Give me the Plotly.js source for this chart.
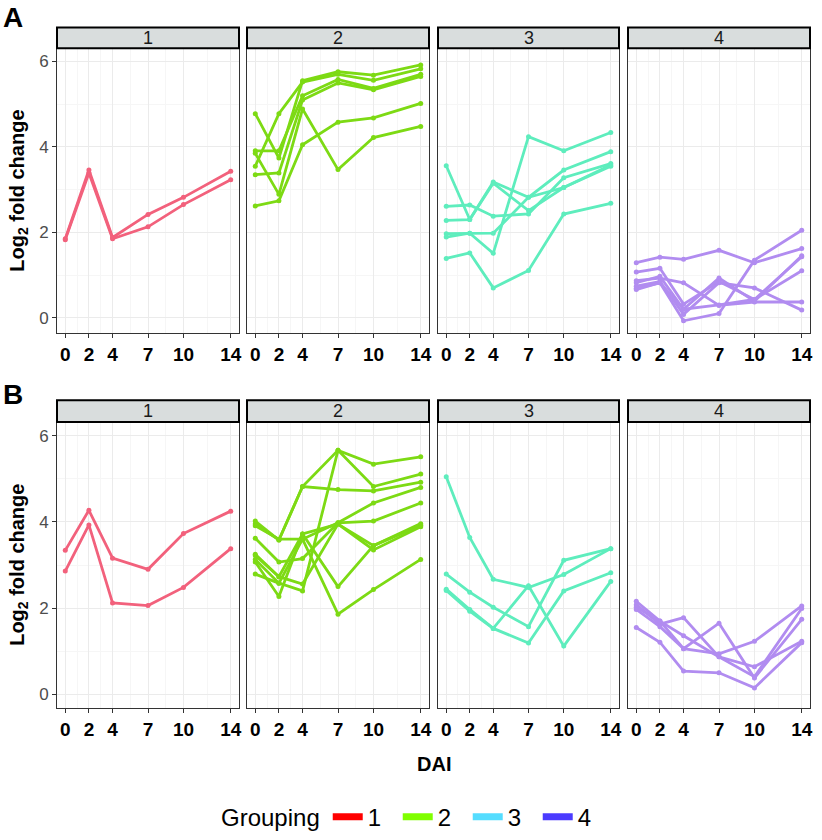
<!DOCTYPE html>
<html>
<head>
<meta charset="utf-8">
<script src="https://cdn.plot.ly/plotly-3.0.1.min.js"></script>
<style>
  body { margin: 0; background: #fff; }
  #graphs-div { width: 822px; height: 840px; }
</style>
</head>
<body>
<div id="graphs-div"></div>
<script>
// x values (days after inoculation)
var dai = [0, 2, 4, 7, 10, 14];
var daiLabels = ['0', '2', '4', '7', '10', '14'];
var groupNames = ['1', '2', '3', '4'];
var lineColors = ['#F2617C', '#7DDA14', '#5EEDBD', '#B18CF0'];
var legendColors = ['#FF0000', '#80FF00', '#55DDFF', '#4B3BFF'];
var rowLetters = ['A', 'B'];

// Row A, one array of series per grouping
var a1 = [
    [1.85, 3.46, 1.88, 2.42, 2.82, 3.43],
    [1.83, 3.39, 1.85, 2.13, 2.65, 3.23]
];
var a2 = [
    [3.55, 4.78, 5.52, 5.70, 5.56, 5.83],
    [4.78, 3.74, 5.55, 5.76, 5.68, 5.92],
    [3.91, 3.91, 5.20, 5.58, 5.37, 5.70],
    [3.85, 2.89, 4.89, 3.47, 4.22, 4.48],
    [3.35, 3.39, 5.10, 5.50, 5.34, 5.65],
    [2.62, 2.74, 4.05, 4.58, 4.68, 5.02]
];
var a3 = [
    [3.56, 2.30, 3.18, 2.82, 3.05, 3.55],
    [2.61, 2.64, 2.38, 2.43, 3.28, 3.61],
    [2.28, 2.30, 3.15, 2.51, 3.05, 3.58],
    [1.97, 1.98, 1.98, 2.82, 3.46, 3.89],
    [1.89, 1.98, 1.51, 4.24, 3.91, 4.34],
    [1.39, 1.52, 0.70, 1.11, 2.43, 2.68]
];
var a4 = [
    [1.29, 1.42, 1.37, 1.58, 1.29, 1.62],
    [0.69, 0.82, -0.07, 0.10, 1.35, 2.05],
    [1.07, 1.16, 0.32, 0.85, 0.43, 1.43],
    [0.87, 0.93, 0.82, 0.29, 0.37, 0.37],
    [0.82, 0.97, 0.20, 0.93, 0.39, 1.45],
    [0.74, 0.85, 0.08, 0.82, 0.70, 0.18],
    [0.66, 0.82, 0.20, 0.30, 0.43, 1.10]
];

// Row B
var b1 = [
    [3.34, 4.27, 3.16, 2.90, 3.73, 4.25],
    [2.86, 3.93, 2.12, 2.06, 2.48, 3.38]
];
var b2 = [
    [4.02, 3.58, 4.82, 5.66, 5.34, 5.51],
    [3.95, 3.58, 4.82, 4.75, 4.72, 4.92],
    [3.91, 3.60, 3.60, 3.98, 4.44, 4.80],
    [3.62, 3.07, 3.15, 3.98, 4.02, 4.44],
    [3.25, 2.73, 3.72, 2.50, 3.45, 3.96],
    [3.13, 2.58, 2.40, 5.66, 4.82, 5.11],
    [3.07, 2.27, 3.72, 3.95, 3.35, 3.89],
    [2.79, 2.58, 3.60, 1.86, 2.43, 3.13],
    [3.22, 2.73, 2.56, 3.95, 3.45, 3.92]
];
var b3 = [
    [5.05, 3.64, 2.67, 2.48, 2.78, 3.38],
    [2.79, 2.37, 2.02, 1.57, 3.11, 3.38],
    [2.44, 1.97, 1.53, 2.52, 1.12, 2.62],
    [2.41, 1.93, 1.53, 1.19, 2.40, 2.82]
];
var b4 = [
    [2.16, 1.70, 1.06, 0.94, 1.23, 2.05],
    [2.08, 1.63, 1.78, 0.87, 0.41, 1.99],
    [2.02, 1.70, 1.36, 0.87, 0.64, 1.23],
    [1.97, 1.57, 1.06, 1.65, 0.38, 1.74],
    [1.55, 1.21, 0.54, 0.50, 0.15, 1.20]
];

var panels = [a1, a2, a3, a4, b1, b2, b3, b4];

// page geometry in pixels
var W = 822, H = 840;
var colPx = [[57, 239], [247, 429], [438, 619], [628, 810]];
var rowPx = [[49, 338], [428, 718]];      // panel top / bottom
var stripPx = [[28, 49], [406, 428]];     // facet strip top / bottom
var yRanges = [[-0.36, 6.31], [-0.31, 6.32]];

function px(x) { return x / W; }
function py(y) { return 1 - y / H; }

var data = [];
var layout = {
    width: W,
    height: H,
    autosize: false,
    margin: { l: 0, r: 0, t: 0, b: 0 },
    paper_bgcolor: '#fff',
    plot_bgcolor: '#fff',
    font: { family: 'Liberation Sans, Arial, sans-serif', color: '#000' },
    showlegend: true,
    legend: {
        orientation: 'h',
        x: px(219),
        xanchor: 'left',
        y: py(829),
        yanchor: 'middle',
        title: { text: 'Grouping', side: 'left', font: { size: 24 } },
        font: { size: 24 },
        entrywidth: 25,
        entrywidthmode: 'pixels',
        tracegroupgap: 0
    },
    shapes: [],
    annotations: []
};

for (var p = 0; p < panels.length; p++) {
    var row = Math.floor(p / 4);
    var col = p % 4;
    var suffix = p === 0 ? '' : String(p + 1);

    // one line per series, grouping colour by column
    for (var s = 0; s < panels[p].length; s++) {
        data.push({
            x: dai,
            y: panels[p][s],
            xaxis: 'x' + suffix,
            yaxis: 'y' + suffix,
            mode: 'lines+markers',
            type: 'scatter',
            line: { color: lineColors[col], width: 2.8 },
            marker: { color: lineColors[col], size: 5 },
            showlegend: false,
            hoverinfo: 'skip'
        });
    }

    layout['xaxis' + suffix] = {
        domain: [px(colPx[col][0]), px(colPx[col][1])],
        anchor: 'y' + suffix,
        range: [-0.7, 14.7],
        tickmode: 'array',
        tickvals: dai,
        ticktext: daiLabels,
        ticks: 'outside',
        ticklen: 4,
        tickcolor: '#333',
        tickfont: { size: 19, color: '#000', weight: 'bold' },
        showline: true,
        mirror: true,
        linecolor: '#333',
        linewidth: 1,
        showgrid: true,
        gridcolor: '#EBEBEB',
        gridwidth: 1,
        minor: { tickvals: [1, 3, 5.5, 8.5, 12], showgrid: true, gridcolor: '#F6F6F6', gridwidth: 1, ticks: '' },
        zeroline: false,
        fixedrange: true
    };
    layout['yaxis' + suffix] = {
        domain: [py(rowPx[row][1]), py(rowPx[row][0])],
        anchor: 'x' + suffix,
        range: yRanges[row],
        tickmode: 'array',
        tickvals: [0, 2, 4, 6],
        ticks: col === 0 ? 'outside' : '',
        ticklen: 4,
        tickcolor: '#333',
        showticklabels: col === 0,
        tickfont: { size: 17, color: '#4D4D4D' },
        showline: true,
        mirror: true,
        linecolor: '#333',
        linewidth: 1,
        showgrid: true,
        gridcolor: '#EBEBEB',
        gridwidth: 1,
        minor: { tickvals: [1, 3, 5], showgrid: true, gridcolor: '#F6F6F6', gridwidth: 1, ticks: '' },
        zeroline: false,
        fixedrange: true
    };

    // facet strip with its label
    layout.shapes.push({
        type: 'rect', xref: 'paper', yref: 'paper',
        x0: px(colPx[col][0]), x1: px(colPx[col][1]),
        y0: py(stripPx[row][1]), y1: py(stripPx[row][0]),
        fillcolor: '#D9DDDD',
        line: { color: '#000', width: 2 }
    });
    layout.annotations.push({
        xref: 'paper', yref: 'paper',
        x: px((colPx[col][0] + colPx[col][1]) / 2),
        y: py((stripPx[row][0] + stripPx[row][1]) / 2),
        text: groupNames[col],
        showarrow: false,
        xanchor: 'center', yanchor: 'middle',
        font: { size: 18, color: '#1A1A1A' }
    });
}

// row letters and y titles
for (var r = 0; r < 2; r++) {
    layout.annotations.push({
        xref: 'paper', yref: 'paper',
        x: px(1), y: py(r === 0 ? 18 : 400),
        text: rowLetters[r],
        showarrow: false,
        xanchor: 'left', yanchor: 'middle',
        font: { size: 28, weight: 'bold', color: '#000' }
    });
    layout.annotations.push({
        xref: 'paper', yref: 'paper',
        x: px(19), y: py((rowPx[r][0] + rowPx[r][1]) / 2),
        text: 'Log<sub>2</sub> fold change',
        textangle: -90,
        showarrow: false,
        xanchor: 'center', yanchor: 'middle',
        font: { size: 20, weight: 'bold', color: '#000' }
    });
}

// shared x title
layout.annotations.push({
    xref: 'paper', yref: 'paper',
    x: px(434), y: py(775),
    text: 'DAI',
    showarrow: false,
    xanchor: 'center', yanchor: 'middle',
    font: { size: 20, weight: 'bold', color: '#000' }
});

// legend entries only
for (var g = 0; g < groupNames.length; g++) {
    data.push({
        x: [null],
        y: [null],
        mode: 'lines',
        type: 'scatter',
        name: groupNames[g],
        line: { color: legendColors[g], width: 7 },
        showlegend: true,
        hoverinfo: 'skip'
    });
}

Plotly.newPlot('graphs-div', data, layout, { staticPlot: true });
</script>
</body>
</html>
